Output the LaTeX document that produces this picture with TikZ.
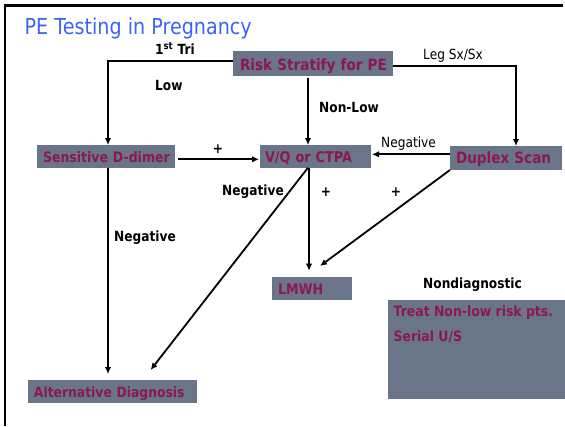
\documentclass[tikz,border=0pt]{standalone}
\usepackage{fontspec}
\setmainfont{DejaVu Sans}[FakeStretch=0.87]
\usetikzlibrary{arrows.meta,calc}
\definecolor{boxgray}{RGB}{107,117,137}
\definecolor{maroon}{RGB}{139,24,82}
\definecolor{titleblue}{RGB}{59,100,245}
\newcommand{\fsz}[1]{\fontsize{#1}{#1}\selectfont}
\begin{document}
\begin{tikzpicture}[x=1pt,y=-1pt,
  box/.style={fill=boxgray, text=maroon, inner ysep=0pt, outer sep=0pt, align=left, anchor=base west, font=\bfseries\fsz{#1}},
  lbl/.style={anchor=base west, inner sep=0pt, font=\bfseries\fsz{14}},
  lblr/.style={anchor=base west, inner sep=0pt, font=\fsz{14}},
  plus/.style={anchor=center, inner sep=0pt, font=\bfseries\fsz{14}},
  conn/.style={line width=1.8pt},
  arr/.style={conn, -{Latex[length=7pt,width=6.5pt]}}]
\useasboundingbox (0,0) rectangle (565,426);
% frame
\draw[line width=2.6pt] (4.8,426) -- (4.8,5.2) -- (563,5.2);
% title
\node[anchor=base west, inner sep=0pt, text=titleblue, font=\fsz{22}] (title) at (24.5,34) {PE Testing in Pregnancy};
% boxes
\node[box=15.6, inner xsep=7pt, text width=146pt, text height=19pt, text depth=6pt] (risk) at (233,70) {\mbox{Risk Stratify for PE}};
\node[box=14.4, inner xsep=6pt, text width=126pt, text height=17pt, text depth=5.7pt] (dd) at (37,162) {\mbox{Sensitive D-dimer}};
\node[box=14.8, inner xsep=5pt, text width=101pt, text height=17pt, text depth=5.7pt] (vq) at (260,162) {\mbox{V/Q or CTPA}};
\node[box=15.6, inner xsep=6pt, text width=100pt, text height=17.3pt, text depth=6.7pt] (dup) at (450,163.3) {\mbox{Duplex Scan}};
\node[box=14.6, inner xsep=6pt, text width=68pt, text height=17pt, text depth=5.5pt] (lmwh) at (272,294) {\mbox{LMWH}};
\node[box=14.2, inner xsep=6pt, text width=157pt, text height=17pt, text depth=5.7pt] (alt) at (28,397) {\mbox{Alternative Diagnosis}};
\node[fill=boxgray, anchor=north west, inner sep=0pt, outer sep=0pt, minimum width=177pt, minimum height=99.3pt] (nd) at (388,300) {};
\node[anchor=base west, inner sep=0pt, text=maroon, font=\bfseries\fsz{14.3}] (treat) at (393.5,316.7) {Treat Non-low risk pts.};
\node[anchor=base west, inner sep=0pt, text=maroon, font=\bfseries\fsz{14.3}] (serial) at (393.5,341.7) {Serial U/S};
% labels
\node[lbl] (tri) at (155,54.3) {1\textsuperscript{st} Tri};
\node[lblr] (leg) at (423,59.3) {Leg Sx/Sx};
\node[lbl] (low) at (155,90.7) {Low};
\node[lbl] (nonlow) at (319,112.7) {Non-Low};
\node[plus] (p1) at (218,149.3) {+};
\node[lblr] (neg1) at (381,147.3) {Negative};
\node[lbl] (neg2) at (222,195) {Negative};
\node[plus] (p2) at (326,191.7) {+};
\node[plus] (p3) at (396,191.7) {+};
\node[lbl] (neg3) at (114,241.7) {Negative};
\node[lbl] (nondiag) at (423,288.3) {Nondiagnostic};
% connectors
\coordinate (kL) at (108,61);
\coordinate (kR) at (516,65.7);
\coordinate (kC) at (308,0);
\coordinate (kV) at (309,0);
\coordinate (tipL) at (320,266);
\coordinate (tipA) at (150.6,370);
\draw[arr] (risk.west |- kL) -- (kL) -- (kL |- dd.north);
\draw[arr] (risk.east |- kR) -- (kR) -- (kR |- dup.north);
\draw[arr, shorten <=2.3pt] (kC |- risk.south) -- (kC |- vq.north);
\draw[arr, shorten <=3pt, shorten >=1pt] (dd.east |- 0,159.3) -- (vq.west |- 0,159.3);
\draw[arr, shorten >=1pt] (dup.west |- 0,154.3) -- (vq.east |- 0,154.3);
\draw[arr, shorten >=6.3pt] (kV |- vq.south) -- (kV |- lmwh.north);
\draw[arr] (dup.south west) -- (tipL);
\draw[arr] (kC |- vq.south) -- (tipA);
\draw[arr, shorten >=6pt] (kL |- dd.south) -- (kL |- alt.north);
\end{tikzpicture}
\end{document}
